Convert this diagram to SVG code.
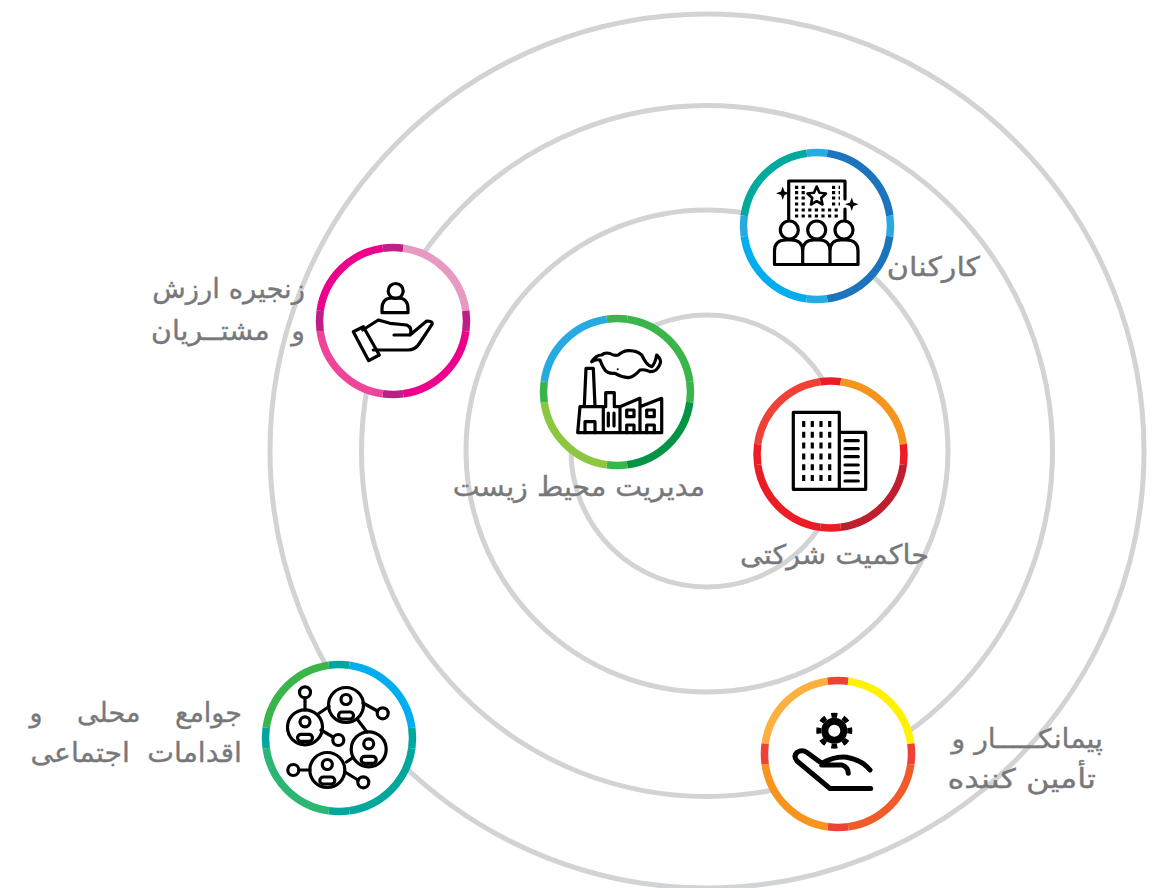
<svg xmlns="http://www.w3.org/2000/svg" width="1158" height="888" viewBox="0 0 1158 888">
<style>
.ring{fill:none;stroke:#d1d3d4;stroke-width:5}
.bg{fill:#fff}
.s{fill:none;stroke-width:7.5}
.i{fill:none;stroke:#000;stroke-width:3.2;stroke-linejoin:round;stroke-linecap:round}
.k{fill:#000;stroke:none}
.t{font-family:"DejaVu Sans",sans-serif;font-size:27px;fill:#77787b;stroke:#77787b;stroke-width:.35;direction:rtl;text-anchor:start}
</style>
<defs>
<path id="q1" d="M10.2,-72.8A73.5,73.5 0 0 1 72.8,-10.2"/>
<path id="q2" d="M72.8,10.2A73.5,73.5 0 0 1 10.2,72.8"/>
<path id="q3" d="M-10.2,72.8A73.5,73.5 0 0 1 -72.8,10.2"/>
<path id="q4" d="M-72.8,-10.2A73.5,73.5 0 0 1 -10.2,-72.8"/>
<path id="st" d="M-10.2,-72.8A73.5,73.5 0 0 1 10.2,-72.8"/>
<path id="sr" d="M72.8,-10.2A73.5,73.5 0 0 1 72.8,10.2"/>
<path id="sb" d="M10.2,72.8A73.5,73.5 0 0 1 -10.2,72.8"/>
<path id="sl" d="M-72.8,10.2A73.5,73.5 0 0 1 -72.8,-10.2"/>
<circle id="bgc" r="74" class="bg"/>
<g id="pers"><circle cx="0" cy="-5.5" r="5" class="i"/><rect x="-7.500" y="7" width="15" height="7" rx="3.5" class="i"/></g>
</defs>
<g id="rings">
<circle class="ring" cx="707" cy="451" r="437"/>
<circle class="ring" cx="707" cy="451" r="345.500"/>
<circle class="ring" cx="707" cy="451" r="241"/>
<circle class="ring" cx="707" cy="451" r="136"/>
</g>
<g id="node-employees">
<g transform="translate(817,226)"><use href="#bgc"/><g class="s">
<use href="#q4" stroke="#00a99d"/><use href="#st" stroke="#27aae1"/><use href="#q1" stroke="#1c75bc"/><use href="#sr" stroke="#27aae1"/><use href="#q2" stroke="#1c75bc"/><use href="#sb" stroke="#27aae1"/><use href="#q3" stroke="#00aeef"/><use href="#sl" stroke="#27aae1"/></g></g>
<path class="i" d="M788.7,220V181H845V199M845,209V220"/>
<path class="i" stroke-dasharray="3.2 3.4" style="stroke-linecap:butt" d="M795,187.3H805M795,192.7H805M795,198H805M795,204H805M832,187.3H840M832,192.7H840M832,198H840M832,204H840M795,210H840M795,216H840"/>
<path class="i" style="stroke-width:2.6" d="M816.7,186.5L819.5,192.8L826,193.5L821.2,198L822.5,204.5L816.7,201.2L811,204.5L812.2,198L807.5,193.500L814,192.8Z"/>
<path class="k" d="M782.7,186.5L784.5,191.5L789.5,193.3L784.5,195L782.7,200L781,195L776,193.3L781,191.5Z"/>
<path class="k" d="M851.7,197.5L853.5,202.5L858.5,204.3L853.5,206L851.7,211L850,206L845,204.3L850,202.5Z"/>
<circle class="i" cx="789.3" cy="230" r="9"/><circle class="i" cx="816.7" cy="230" r="9"/><circle class="i" cx="844" cy="230" r="9"/>
<path class="i" d="M774.5,264.500V251Q774.5,240 786,240H791Q802.7,240 802.7,251V264.500ZM802.7,264.500V251Q802.7,240 814,240H819Q830,240 830,251V264.500ZM830,264.500V251Q830,240 841,240H846Q858,240 858,251V264.500Z"/>
<text class="t" transform="translate(980,276) scale(1.12,1)">کارکنان</text>
</g>
<g id="node-value-chain">
<g transform="translate(393,321)"><use href="#bgc"/><g class="s">
<use href="#q4" stroke="#ec008c"/><use href="#st" stroke="#be1e87"/><use href="#q1" stroke="#e899c2"/><use href="#sr" stroke="#be1e87"/><use href="#q2" stroke="#ec008c"/><use href="#sb" stroke="#be1e87"/><use href="#q3" stroke="#ee4499"/><use href="#sl" stroke="#be1e87"/></g></g>
<circle class="i" cx="395.7" cy="291" r="7.5"/>
<path class="i" d="M382,312.7H408V309Q408,298 398,298H392Q382,298 382,309Z"/>
<path class="i" d="M353.3,331.7L363.3,326.7L379.3,355L368.7,360.7Z"/>
<path class="i" d="M362.7,330L378.3,320L390,323.3L406.7,325Q413,328 410,335H394M410,335L426.7,321Q433,321 432,324.3L419,344Q415,350 408,350H373.3"/>
<text class="t" transform="translate(305,298) scale(1.016,1)">زنجیره ارزش</text>
<text class="t" transform="translate(305,340) scale(1.05,1)" style="word-spacing:12px">و مشتــریان</text>
</g>
<g id="node-environment">
<g transform="translate(617,392)"><use href="#bgc"/><g class="s">
<use href="#q4" stroke="#27aae1"/><use href="#st" stroke="#39b54a"/><use href="#q1" stroke="#39b54a"/><use href="#sr" stroke="#39b54a"/><use href="#q2" stroke="#009444"/><use href="#sb" stroke="#39b54a"/><use href="#q3" stroke="#8dc63f"/><use href="#sl" stroke="#39b54a"/></g></g>
<path class="i" d="M584.3,406L586,368.3H593.3L595,406"/>
<path class="i" d="M577.7,432.7H661.7V398.3L640,406.7V398.3L620,406.7H614.3V392.7H605.7V406.7H580L577.7,432.7M603.3,406.7V432.7M620,406.7V432.7M640,406.7V432.7"/>
<path class="i" d="M585,432.7V421.7H595V432.7M608.3,413V426M614,413V426M626.7,410H634V416.7H626.7ZM626.7,432.7V425H634V432.7M646.7,410H654.3V416.7H646.7ZM646.7,432.7V425H654.3V432.7"/>
<path class="i" d="M591.7,361.7Q596,355 601.7,355Q605,352 610,353.5Q614,356 618.3,355Q624,350 630,350.7Q637,351 641.7,355Q647,366 651.7,366.7Q655,364 656.7,355Q662,360 660,364Q657,372 650,371.7Q645,369 640,370Q634,377 628.3,377.7Q621,377 615,373.3Q608,374 605,370Q602,366 600,360Q595,359 591.7,361.7Z"/>
<circle class="k" cx="617.7" cy="369.3" r="1"/>
<text class="t" transform="translate(705,496) scale(1.055,1)">مدیریت محیط زیست</text>
</g>
<g id="node-governance">
<g transform="translate(830.5,454.5)"><use href="#bgc"/><g class="s">
<use href="#q4" stroke="#ef4136"/><use href="#st" stroke="#ed1c24"/><use href="#q1" stroke="#f7941d"/><use href="#sr" stroke="#ed1c24"/><use href="#q2" stroke="#be1e2d"/><use href="#sb" stroke="#ed1c24"/><use href="#q3" stroke="#ed1c24"/><use href="#sl" stroke="#ed1c24"/></g></g>
<path class="i" d="M793.3,412.3H839.3V489.3H793.3ZM839.3,432.3H865.7V489.3H839.3Z"/>
<path class="i" stroke-dasharray="6 4.8" style="stroke-linecap:butt" d="M803.7,421V482M812.3,421V482M821,421V482M829.7,421V482"/>
<path class="i" d="M845,440.7H858.3M845,448.7H858.3M845,456.7H858.3M845,465H858.3M845,472.7H858.3M845,481H858.3"/>
<text class="t" transform="translate(929,564) scale(1.065,1)">حاکمیت شرکتی</text>
</g>
<g id="node-community">
<g transform="translate(339,738)"><use href="#bgc"/><g class="s">
<use href="#q4" stroke="#39b54a"/><use href="#st" stroke="#00a79d"/><use href="#q1" stroke="#00aeef"/><use href="#sr" stroke="#00a79d"/><use href="#q2" stroke="#00a79d"/><use href="#sb" stroke="#00a79d"/><use href="#q3" stroke="#2bb673"/><use href="#sl" stroke="#00a79d"/></g></g>
<g class="i">
<circle cx="305" cy="727.3" r="17.5"/><circle cx="346" cy="705" r="17.5"/><circle cx="368.7" cy="749.3" r="17.5"/><circle cx="327.3" cy="770" r="17.5"/>
<circle cx="305" cy="692.3" r="5.5"/><circle cx="382.7" cy="713.3" r="5.5"/><circle cx="338.3" cy="740" r="5.5"/><circle cx="293.3" cy="770" r="5.5"/><circle cx="363.3" cy="782.3" r="5.5"/>
<path d="M305,698V710M318,714L329,706.5M363,703L377.5,711M321,730L333,737M357,719L367,732M346.500,762L353,757.500M299,770H310M345,772L358,780"/>
</g>
<use href="#pers" x="305" y="727.3"/><use href="#pers" x="346" y="705"/><use href="#pers" x="368.7" y="749.3"/><use href="#pers" x="327.3" y="770"/>
<text class="t" x="242" y="722" style="word-spacing:26px">جوامع محلی و</text>
<text class="t" transform="translate(242,762) scale(1.05,1)" style="word-spacing:8px">اقدامات اجتماعی</text>
</g>
<g id="node-supplier">
<g transform="translate(838,754)"><use href="#bgc"/><g class="s">
<use href="#q4" stroke="#fbb040"/><use href="#st" stroke="#ef4136"/><use href="#q1" stroke="#fff200"/><use href="#sr" stroke="#ef4136"/><use href="#q2" stroke="#f15a29"/><use href="#sb" stroke="#ef4136"/><use href="#q3" stroke="#f7941d"/><use href="#sl" stroke="#ef4136"/></g></g>
<circle cx="834.300" cy="730.7" r="9.500" fill="none" stroke="#000" stroke-width="7"/>
<circle cx="834.300" cy="730.7" r="15.500" fill="none" stroke="#000" stroke-width="5" pathLength="80" stroke-dasharray="5 5" stroke-dashoffset="2.5"/>
<path class="i" style="stroke-width:5" d="M870.700,788.500H830L797,761Q793,756 797,752.500Q802,749 807,752.500L821.700,763.300Q835,756 846.700,757.300Q862,760 870,770M821.700,765H842Q848,767 848.300,773.300"/>
<text class="t" transform="translate(1103,748) scale(1.05,1)">پیمانکـــــار و</text>
<text class="t" transform="translate(1096,788) scale(1.19,1)">تأمین کننده</text>
</g>
</svg>
